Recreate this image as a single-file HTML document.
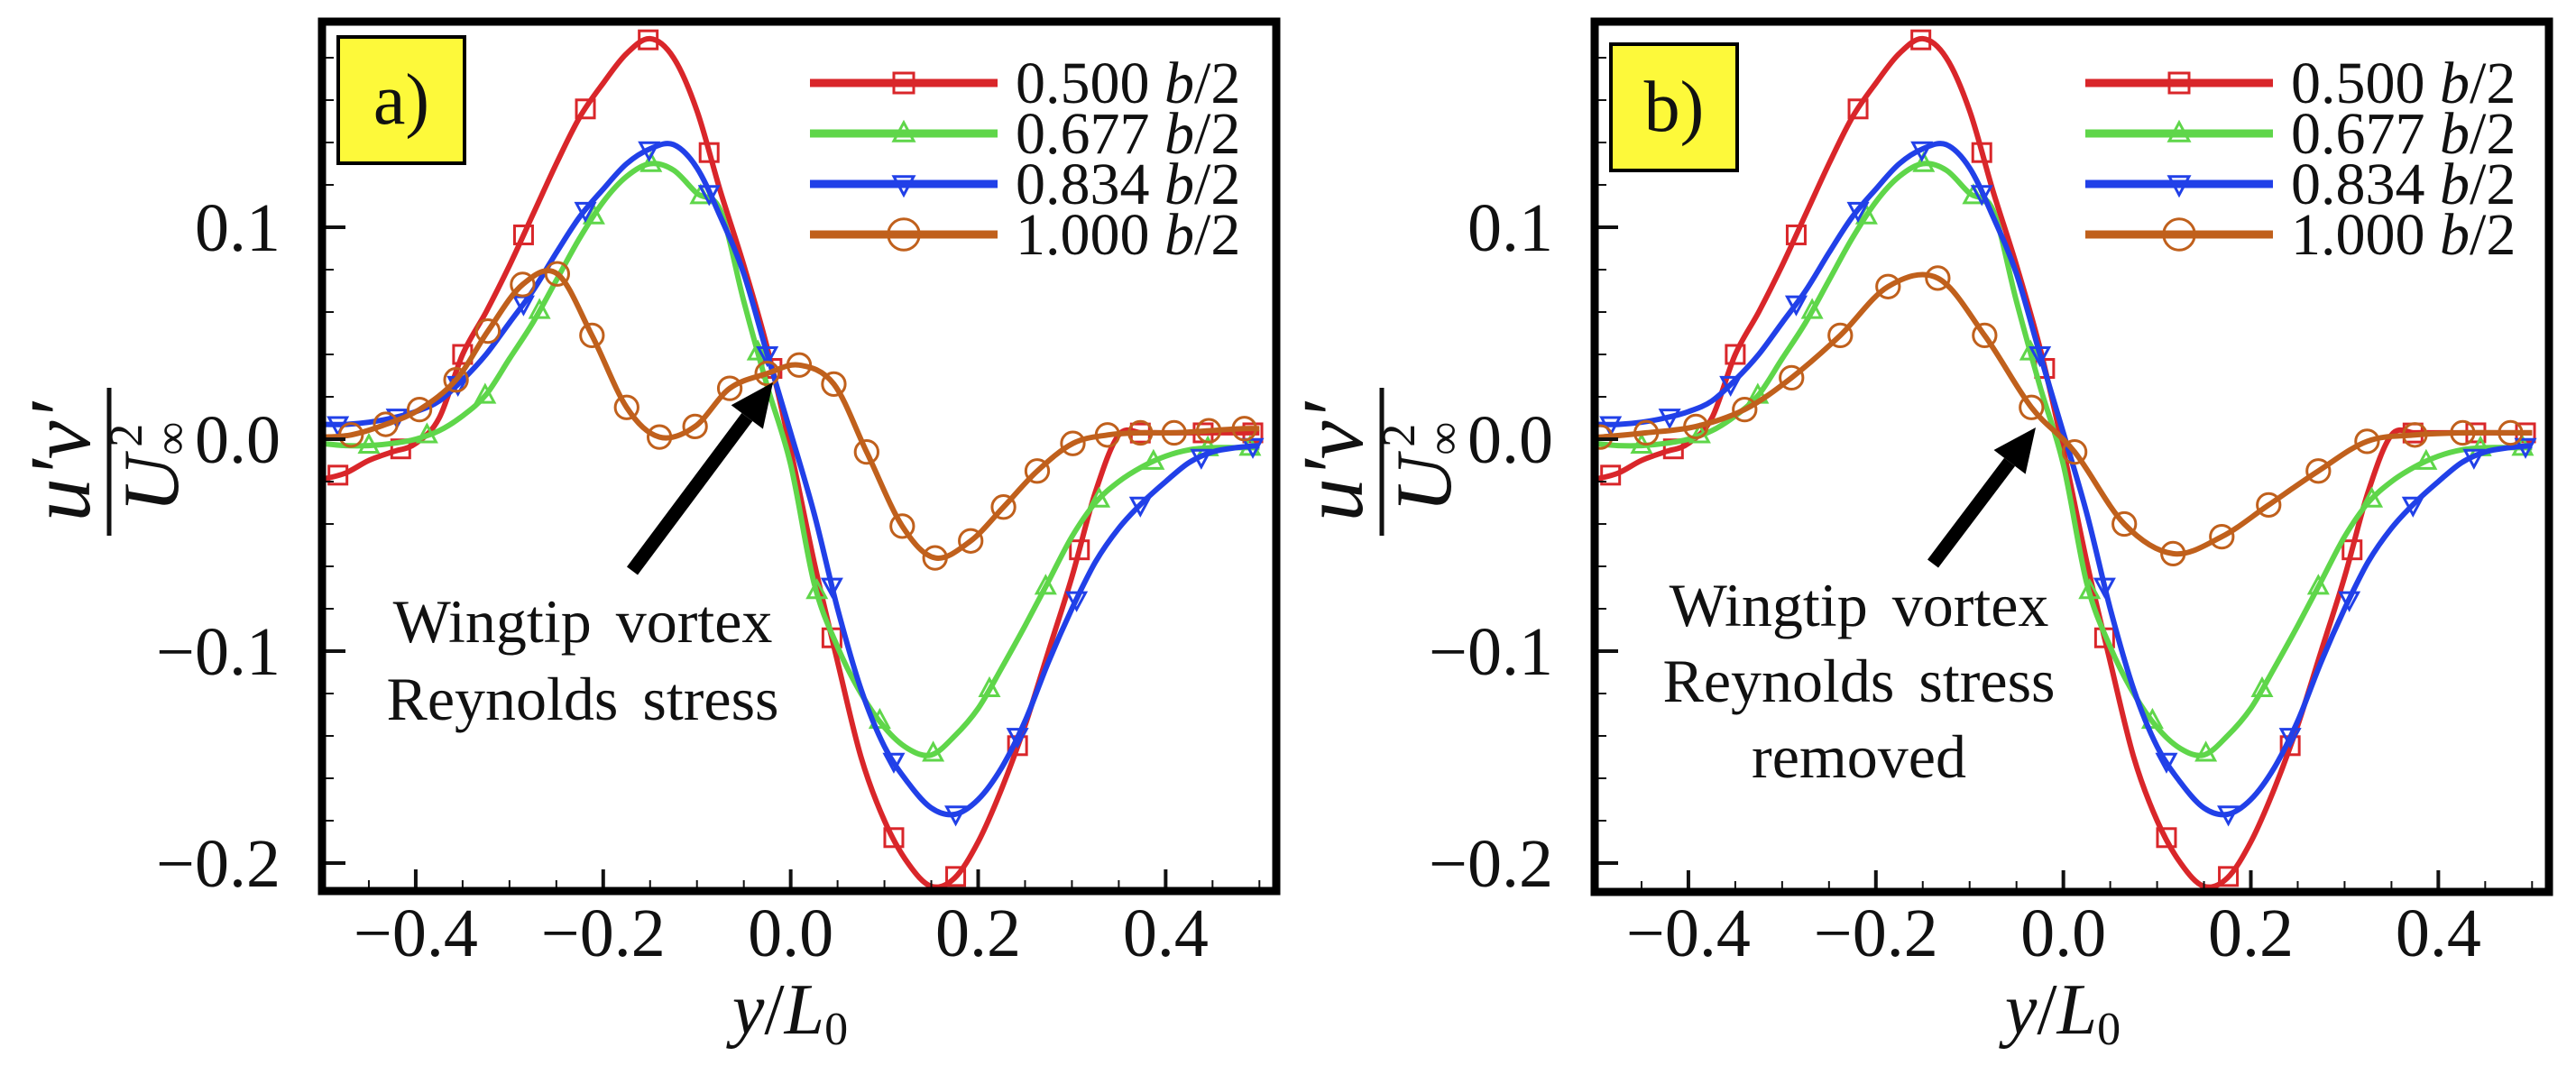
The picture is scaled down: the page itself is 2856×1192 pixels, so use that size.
<!DOCTYPE html>
<html><head><meta charset="utf-8"><style>
html,body{margin:0;padding:0;background:#fff;}
svg{display:block;}
text{font-family:"Liberation Serif",serif;fill:#111;}
</style></head><body>
<svg id="fig" width="2856" height="1192" viewBox="0 0 2856 1192" xmlns="http://www.w3.org/2000/svg"></svg>
<script>
const xGrid=[-0.5,-0.475,-0.45,-0.425,-0.4,-0.375,-0.35,-0.325,-0.3,-0.275,-0.25,-0.225,-0.2,-0.175,-0.15,-0.125,-0.1,-0.075,-0.05,-0.025,0,0.025,0.05,0.075,0.1,0.125,0.15,0.175,0.2,0.225,0.25,0.275,0.3,0.325,0.35,0.375,0.4,0.425,0.45,0.475,0.5];
const redVals=[-0.019,-0.016,-0.010,-0.006,-0.002,0.010,0.040,0.060,0.082,0.106,0.130,0.152,0.168,0.182,0.189,0.180,0.155,0.117,0.082,0.043,-0.005,-0.058,-0.105,-0.150,-0.180,-0.200,-0.211,-0.207,-0.190,-0.165,-0.135,-0.100,-0.065,-0.025,0.002,0.003,0.003,0.003,0.003,0.003,0.003];
const greenVals=[-0.002,-0.003,-0.003,-0.002,0.000,0.004,0.011,0.021,0.038,0.055,0.075,0.095,0.112,0.124,0.130,0.127,0.116,0.108,0.065,0.025,-0.012,-0.068,-0.098,-0.120,-0.136,-0.146,-0.149,-0.140,-0.127,-0.108,-0.088,-0.067,-0.046,-0.030,-0.020,-0.013,-0.008,-0.005,-0.004,-0.004,-0.004];
const blueVals=[0.007,0.007,0.008,0.010,0.013,0.018,0.028,0.040,0.055,0.070,0.088,0.105,0.118,0.130,0.137,0.139,0.128,0.105,0.078,0.040,0.003,-0.035,-0.080,-0.118,-0.145,-0.162,-0.174,-0.177,-0.170,-0.155,-0.133,-0.105,-0.080,-0.058,-0.042,-0.030,-0.020,-0.011,-0.006,-0.004,-0.003];
const redMarkX=[-0.483,-0.416,-0.35,-0.285,-0.219,-0.152,-0.087,-0.02,0.044,0.11,0.176,0.242,0.308,0.373,0.44,0.493];
const greenMarkX=[-0.45,-0.388,-0.326,-0.268,-0.21,-0.149,-0.096,-0.035,0.028,0.095,0.152,0.212,0.272,0.329,0.387,0.445,0.49];
const blueMarkX=[-0.483,-0.42,-0.355,-0.285,-0.219,-0.151,-0.087,-0.025,0.044,0.11,0.176,0.242,0.305,0.373,0.438,0.493];
const orangeAX=[-0.5,-0.469,-0.432,-0.396,-0.357,-0.323,-0.286,-0.249,-0.212,-0.175,-0.14,-0.102,-0.065,-0.025,0.009,0.046,0.081,0.119,0.154,0.192,0.227,0.263,0.301,0.338,0.373,0.409,0.446,0.484,0.5];
const orangeAVals=[0.001,0.002,0.007,0.014,0.028,0.051,0.073,0.078,0.049,0.015,0.001,0.006,0.024,0.031,0.035,0.026,-0.006,-0.041,-0.056,-0.048,-0.032,-0.015,-0.002,0.002,0.003,0.003,0.004,0.005,0.005];
const orangeBX=[-0.5,-0.494,-0.445,-0.392,-0.34,-0.29,-0.238,-0.187,-0.134,-0.084,-0.034,0.012,0.065,0.117,0.169,0.219,0.272,0.324,0.375,0.426,0.477,0.5];
const orangeBVals=[0.001,0.001,0.003,0.006,0.014,0.029,0.049,0.072,0.076,0.049,0.015,-0.006,-0.040,-0.054,-0.046,-0.031,-0.015,-0.001,0.002,0.003,0.003,0.003];
const yTicks=[-0.2,-0.1,0.0,0.1];
const yTickLabels=["\u22120.2","\u22120.1","0.0","0.1"];
const xTicks=[-0.4,-0.2,0.0,0.2,0.4];
const xTickLabels=["\u22120.4","\u22120.2","0.0","0.2","0.4"];
const legendLabels=["0.500","0.677","0.834","1.000"];

const NS="http://www.w3.org/2000/svg";
const svg=document.getElementById('fig');
function mk(tag,attrs,parent){const e=document.createElementNS(NS,tag);for(const k in attrs)e.setAttribute(k,attrs[k]);(parent||svg).appendChild(e);return e;}
const COL={red:"#d9262a",green:"#5fd64a",blue:"#2140e8",orange:"#c0601c"};

function interp(xs,ys,x){for(let i=0;i<xs.length-1;i++){if(x>=xs[i]&&x<=xs[i+1]){const t=(x-xs[i])/(xs[i+1]-xs[i]);return ys[i]+t*(ys[i+1]-ys[i]);}}return ys[ys.length-1];}
function smoothPath(pts){let d="M"+pts[0][0].toFixed(1)+","+pts[0][1].toFixed(1);for(let i=0;i<pts.length-1;i++){const p0=pts[i-1]||pts[i],p1=pts[i],p2=pts[i+1],p3=pts[i+2]||p2;const c1=[p1[0]+(p2[0]-p0[0])/6,p1[1]+(p2[1]-p0[1])/6],c2=[p2[0]-(p3[0]-p1[0])/6,p2[1]-(p3[1]-p1[1])/6];d+=" C"+c1[0].toFixed(1)+","+c1[1].toFixed(1)+" "+c2[0].toFixed(1)+","+c2[1].toFixed(1)+" "+p2[0].toFixed(1)+","+p2[1].toFixed(1);}return d;}
function marker(g,type,cx,cy,col,s){
  let e;
  if(type==='sq'){e=mk('rect',{x:cx-s,y:cy-s,width:2*s,height:2*s,fill:'none',stroke:col,'stroke-width':3},g);}
  else if(type==='up'){e=mk('polygon',{points:`${cx},${cy-s*1.1} ${cx-s},${cy+s*0.75} ${cx+s},${cy+s*0.75}`,fill:'none',stroke:col,'stroke-width':3},g);}
  else if(type==='dn'){e=mk('polygon',{points:`${cx},${cy+s*1.1} ${cx-s},${cy-s*0.75} ${cx+s},${cy-s*0.75}`,fill:'none',stroke:col,'stroke-width':3},g);}
  else {e=mk('circle',{cx:cx,cy:cy,r:s*1.15,fill:'none',stroke:col,'stroke-width':3},g);}
  return e;
}

function panel(id,L,R,T,B,orX,orY,label,annot,arrow,legX,lbY){
  const x0=-0.5,x1=0.518;
  const sx=v=>L+(v-x0)/(x1-x0)*(R-L);
  const sy=v=>487-v*2350;
  const g=mk('g',{});
  
  
  const cid='clip-'+id;
  const cp=mk('clipPath',{id:cid},g);mk('rect',{x:L,y:T,width:R-L,height:B-T},cp);
  const plot=mk('g',{'clip-path':`url(#${cid})`},g);
  
  
  const series=[
    {n:'red',xs:xGrid,ys:redVals,mx:redMarkX,t:'sq'},
    {n:'green',xs:xGrid,ys:greenVals,mx:greenMarkX,t:'up'},
    {n:'blue',xs:xGrid,ys:blueVals,mx:blueMarkX,t:'dn'},
    {n:'orange',xs:orX,ys:orY,mx:orX.slice(1,-1),t:'ci'}];
  series.forEach(s=>{
    const sg=mk('g',{},plot);
    
    
    const pts=s.xs.map((x,i)=>[sx(x),sy(s.ys[i])]);
    const p=mk('path',{d:smoothPath(pts),fill:'none',stroke:COL[s.n],'stroke-width':6,'stroke-linejoin':'round'},sg);
    
    
    s.mx.forEach(x=>{
      const m=marker(sg,s.t,sx(x),sy(interp(s.xs,s.ys,x)),COL[s.n],s.t==='ci'?11:10);
      
      
    });
  });
  for(let k=-10;k<=9;k++){const v=k*0.02;const y=sy(v);if(y<T+4||y>B-4)continue;const major=Math.abs(k%5)===0;const t=mk('line',{x1:L,x2:L+(major?26:13),y1:y,y2:y,stroke:'#111','stroke-width':major?4:2},g);}
  for(let k=-9;k<=10;k++){const v=k*0.05;const x=sx(v);if(x<L+4||x>R-4)continue;const major=Math.abs(Math.round(v*100))%20===0;const t=mk('line',{x1:x,x2:x,y1:B,y2:B-(major?24:12),stroke:'#111','stroke-width':major?4:2},g);}
  yTicks.forEach((v,i)=>{const t=mk('text',{x:L-46,y:sy(v)+26,'font-size':76,'text-anchor':'end'},g);t.textContent=yTickLabels[i];});
  xTicks.forEach((v,i)=>{const t=mk('text',{x:sx(v),y:1060,'font-size':76,'text-anchor':'middle'},g);t.textContent=xTickLabels[i];});
  const fr=mk('rect',{x:L,y:T,width:R-L,height:B-T,fill:'none',stroke:'#000','stroke-width':9},g);
  
  const lb=mk('g',{},g);
  mk('rect',{x:L+18,y:lbY,width:140,height:140,fill:'#fdf93a',stroke:'#000','stroke-width':4},lb);
  const lt=mk('text',{x:L+88,y:lbY+96,'font-size':80,'text-anchor':'middle'},lb);lt.textContent=label;
  const lg=mk('g',{},g);
  const types=['sq','up','dn','ci'],names=['red','green','blue','orange'],rows=[92,148,204,260];
  names.forEach((n,i)=>{
    const e=mk('g',{},lg);
    mk('line',{x1:legX,x2:legX+208,y1:rows[i],y2:rows[i],stroke:COL[n],'stroke-width':9},e);
    marker(e,types[i],legX+104,rows[i],COL[n],n==='orange'?15:11);
    const t=mk('text',{x:legX+228,y:rows[i]+22,'font-size':66},e);
    t.textContent=legendLabels[i]+' ';
    const ts=mk('tspan',{'font-style':'italic'},t);ts.textContent='b';
    const ts2=mk('tspan',{},t);ts2.textContent='/2';
  });
  const an=mk('g',{},g);
  annot.lines.forEach((s,i)=>{const t=mk('text',{x:annot.cx,y:annot.y0+i*annot.dy,'font-size':68,'text-anchor':'middle','word-spacing':10},an);t.textContent=s;});
  const [ax,ay,bx,by]=arrow;const ang=Math.atan2(by-ay,bx-ax);const hl=48,hw=22;
  const ex=bx-hl*Math.cos(ang),ey=by-hl*Math.sin(ang);
  mk('line',{x1:ax,y1:ay,x2:ex,y2:ey,stroke:'#000','stroke-width':15},an);
  mk('polygon',{points:`${bx},${by} ${ex+hw*Math.sin(ang)},${ey-hw*Math.cos(ang)} ${ex-hw*Math.sin(ang)},${ey+hw*Math.cos(ang)}`,fill:'#000'},an);
  const xt=mk('text',{x:(L+R)/2-10,y:1146,'font-size':80,'text-anchor':'middle'},g);
  const a1=mk('tspan',{'font-style':'italic'},xt);a1.textContent='y';
  const a2=mk('tspan',{},xt);a2.textContent='/';
  const a3=mk('tspan',{'font-style':'italic'},xt);a3.textContent='L';
  const a4=mk('tspan',{'font-size':52,dy:12},xt);a4.textContent='0';
  const yt=mk('g',{transform:`translate(${L-236},512) rotate(-90)`},g);
  const nu=mk('text',{x:0,y:-22,'font-size':96,'font-style':'italic','text-anchor':'middle'},yt);nu.textContent='u\u2032v\u2032';
  mk('line',{x1:-82,x2:82,y1:0,y2:0,stroke:'#111','stroke-width':5},yt);
  const de=mk('text',{x:-6,y:76,'font-size':88,'text-anchor':'middle'},yt);
  const d1=mk('tspan',{'font-style':'italic'},de);d1.textContent='U';
  const d2=mk('tspan',{'font-size':52,dy:10},de);d2.textContent='\u221E';
  const d3=mk('tspan',{'font-size':52,dy:-50,dx:-28},de);d3.textContent='2';
}
panel('a',357,1415,24,988,orangeAX,orangeAVals,'a)',{cx:646,y0:712,dy:86,lines:['Wingtip vortex','Reynolds stress']},[701,633,857,424],898,41);
panel('b',1768,2826,24,989,orangeBX,orangeBVals,'b)',{cx:2061,y0:694,dy:84,lines:['Wingtip vortex','Reynolds stress','removed']},[2143,625,2257,474],2312,49);
</script>
</body></html>
